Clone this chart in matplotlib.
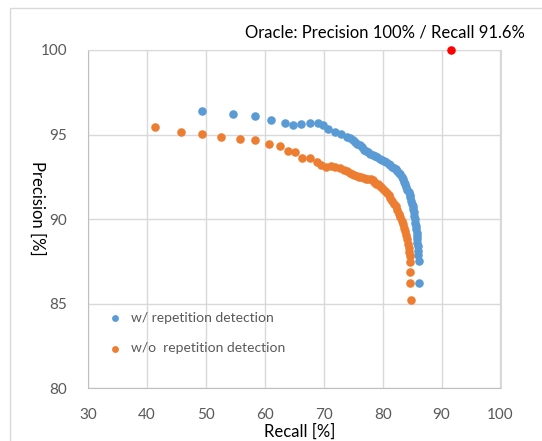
import matplotlib.pyplot as plt
from matplotlib.patches import Rectangle

plt.rcParams['font.family'] = ['Lato', 'DejaVu Sans']

# w/ repetition detection (recall %, precision %)
rec_with = [49.3, 54.6, 58.4, 61.0, 63.4, 64.8, 66.2, 67.7, 69.0, 69.9, 70.8, 72.0, 72.9, 74.0,
            74.5, 74.9, 75.3, 75.7, 76.1, 76.5, 76.9, 77.2, 77.5, 77.9, 78.3, 78.7, 79.1, 79.5,
            79.9, 80.3, 80.6, 81.0, 81.3, 81.6, 81.9, 82.2, 82.5, 82.8, 83.0, 83.2, 83.4, 83.6,
            83.8, 84.0, 84.2, 84.4, 84.6, 84.7, 84.85, 85.0, 85.1, 85.2, 85.3, 85.4, 85.5, 85.55,
            85.6, 85.7, 85.75, 85.8, 85.85, 85.9, 85.95, 86.0, 86.05, 86.1, 86.1]
prec_with = [96.4, 96.2, 96.1, 95.85, 95.7, 95.55, 95.6, 95.7, 95.7, 95.55, 95.35, 95.15, 95.05, 94.85,
             94.78, 94.65, 94.55, 94.45, 94.4, 94.25, 94.1, 94.0, 93.95, 93.85, 93.8, 93.72, 93.65, 93.58,
             93.5, 93.42, 93.35, 93.25, 93.18, 93.1, 93.0, 92.95, 92.85, 92.75, 92.65, 92.5, 92.35, 92.2,
             92.05, 91.9, 91.75, 91.6, 91.45, 91.3, 91.1, 90.9, 90.75, 90.6, 90.4, 90.2, 90.0, 89.8,
             89.6, 89.4, 89.2, 89.0, 88.8, 88.6, 88.4, 88.1, 87.9, 87.5, 86.25]

# w/o repetition detection
rec_without = [41.4, 45.7, 49.3, 52.5, 55.8, 58.4, 60.75, 62.5, 64.0, 65.2, 66.3, 67.7, 68.9, 69.6,
               70.4, 71.2, 72.0, 72.8, 73.5, 74.0, 74.4, 74.8, 75.2, 75.6, 76.0, 76.4, 76.8, 77.2,
               77.6, 78.0, 78.3, 78.6, 78.9, 79.2, 79.5, 79.8, 80.1, 80.4, 80.7, 81.0, 81.3, 81.6,
               81.9, 82.2, 82.5, 82.8, 83.0, 83.2, 83.4, 83.6, 83.8, 84.0, 84.15, 84.3, 84.4, 84.5,
               84.6, 84.7, 84.7, 84.7, 84.8]
prec_without = [95.45, 95.15, 95.05, 94.85, 94.75, 94.65, 94.45, 94.3, 94.05, 93.95, 93.6, 93.6, 93.35, 93.2,
                93.1, 93.12, 93.1, 93.0, 92.9, 92.85, 92.75, 92.68, 92.6, 92.55, 92.5, 92.48, 92.42, 92.4,
                92.38, 92.35, 92.3, 92.2, 92.1, 92.05, 91.98, 91.9, 91.78, 91.65, 91.52, 91.4, 91.25, 91.1,
                90.92, 90.75, 90.55, 90.3, 90.1, 89.9, 89.7, 89.5, 89.3, 89.05, 88.8, 88.55, 88.3, 88.05,
                87.8, 87.45, 86.9, 86.2, 85.2]

oracle_rec = 91.6
oracle_prec = 100
oracle_text = 'Oracle: Precision 100% / Recall 91.6%'

xticks = [30, 40, 50, 60, 70, 80, 90, 100]
yticks = [80, 85, 90, 95, 100]

blue = '#5B9BD5'
orange = '#ED7D31'
grid_c = '#D9D9D9'
tick_c = '#595959'

fig = plt.figure(figsize=(5.42, 4.41), dpi=100)
fig.patches.append(Rectangle((10 / 542, -0.01), 0.99, 1 - 8 / 441 + 0.01, transform=fig.transFigure,
                             fill=False, edgecolor=grid_c, linewidth=1))
ax = fig.add_axes([88 / 542, 1 - 388.3 / 441, 412.5 / 542, 338.3 / 441])

ax.scatter(rec_with, prec_with, s=38, color=blue, linewidths=0, label='w/ repetition detection', zorder=3)
ax.scatter(rec_without, prec_without, s=38, color=orange, linewidths=0, label='w/o  repetition detection', zorder=3)
ax.scatter([oracle_rec], [oracle_prec], s=38, color='#FF0000', linewidths=0, zorder=4, clip_on=False)

ax.set_xlim(30, 100)
ax.set_ylim(80, 100)
ax.set_xticks(xticks)
ax.set_yticks(yticks)
ax.grid(True, color=grid_c, linewidth=1)
ax.set_axisbelow(True)
ax.tick_params(length=0, labelsize=11, colors=tick_c)
ax.tick_params(axis='x', pad=14)
ax.tick_params(axis='y', pad=15)
for side in ['top', 'right']:
    ax.spines[side].set_color(grid_c)
for side in ['left', 'bottom']:
    ax.spines[side].set_color('#BFBFBF')

ax.set_xlabel('Recall [%]', fontsize=12, va='center', ha='center')
ax.xaxis.set_label_coords(0.514, -0.127)
ax.set_ylabel('Precision [%]', fontsize=12, rotation=-90, va='center', ha='center')
ax.yaxis.set_label_coords(-0.124, 0.533)

leg = ax.legend(loc='lower left', bbox_to_anchor=(0.016, 0.08), frameon=False, fontsize=10,
                labelspacing=1.35, handletextpad=0.1, markerscale=0.8, borderpad=0)
for t in leg.get_texts():
    t.set_color(tick_c)

fig.text(525 / 542, 1 - 33 / 441, oracle_text, ha='right', va='center', fontsize=12)

fig.savefig('out.png', dpi=100)
